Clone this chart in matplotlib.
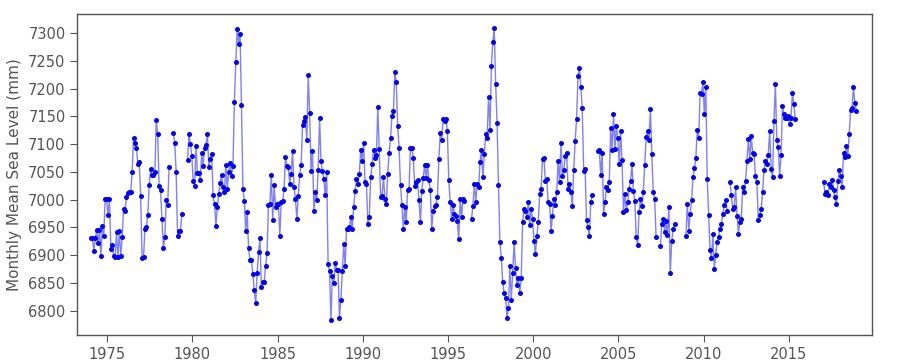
import numpy as np
import matplotlib
matplotlib.use("Agg")
import matplotlib.pyplot as plt

# --------------------------------------------------
# Monthly mean sea level (mm).
# Each block starts at the given (year, month) and runs month by month;
# blocks are split where the record has gaps.
# --------------------------------------------------
first_year = 1974
last_year = 2018

start_1974 = (1974, 1)
level_1974 = [6930, 6930, 6908, 6930, 6945, 6921, 6945, 6899, 6953, 6934, 7002, 7002,
              6972, 7001, 6911, 6918, 6898, 6897, 6941, 6897, 6943, 6898, 6933, 6983,
              6980, 7005, 7012, 7013, 7013, 7049, 7112, 7103, 7094, 7065, 7068, 7007,
              6894, 6896, 6947, 6950, 6972, 7026, 7055, 7044, 7045, 7049, 7143, 7118,
              7025, 7017, 6965, 6912, 6933, 6999, 6990, 7058]

start_1978 = (1978, 11)
level_1978 = [7120, 7103, 7049, 6934, 6943, 6943, 6974]

start_1979 = (1979, 9)
level_1979 = [7071, 7118, 7101, 7079, 7033, 7025, 7097, 7048, 7048, 7035, 7084, 7060,
              7094, 7098, 7118, 7058, 7073, 7083, 7008, 6992, 6953, 6987, 7010, 7030,
              7045, 7023, 7014, 7062, 7020, 7050,
              7067, 7043, 7061, 7176, 7248, 7308, 7281, 7299, 7170, 7019, 6998, 6943,
              6977, 6912, 6892, 6891, 6866, 6837, 6814, 6867, 6905, 6930, 6843, 6852,
              6852, 6880, 6904, 6990, 6992, 7045, 6963, 7026, 6986, 6993, 6993, 6935,
              6996, 6997, 7020, 7077, 7060, 7058, 7029, 7047, 7087,
              7022, 7002, 6965, 7007, 7044, 7063, 7134, 7142, 7149, 7107, 7224, 7157,
              7052, 7088, 6980, 7014, 6999, 7053, 7148, 7069, 7052, 7037, 7008, 7049,
              6884, 6871, 6783,
              6862, 6849, 6886, 6874, 6873, 6786, 6820, 6871, 6920, 6880, 6947, 6947,
              6950, 6968, 6947, 6986, 7016, 7037, 7029, 7046, 7090, 7070, 7102,
              7032, 7029, 6956, 6969, 7040, 7064, 7090, 7076, 7080, 7167, 7091, 7004,
              7007, 7040, 7002, 6992, 7046, 7085, 7112, 7151, 7160, 7230, 7212, 7133,
              7093, 7026, 6990, 6947, 6987, 6959, 7017, 7019, 7093, 7093, 7075, 7025,
              7032, 7035, 6999, 6959, 7016, 7039, 7063, 7039, 7063, 7035, 7017, 6947,
              6980, 6989, 6990, 7005, 7073, 7120, 7108, 7145, 7142, 7145, 7123, 7035,
              6995, 6966, 6990, 6975, 6971, 6962, 6929, 7001, 6969, 7001, 6997]

start_1996 = (1996, 5)
level_1996 = [6965, 6989, 7029, 6996, 7029, 7022, 7068, 7089, 7040, 7082, 7118, 7111,
              7185, 7126, 7241, 7285, 7309, 7209, 7139, 7026, 6924, 6894, 6851, 6831,
              6822, 6786, 6805, 6880, 6820, 6867, 6924, 6876, 6847, 6858, 6832, 6858,
              6959, 6983, 6980, 6968, 6996, 6954, 6984, 6965, 6926, 6902, 6934, 6959,
              7010, 7020, 7074, 7076, 7034, 7037, 6995, 6992, 6944, 6971, 7002, 6990,
              7013, 7070, 7032, 7102, 7043, 7054, 7079, 7085, 7020, 7028, 7014, 6989,
              7054, 7106, 7145, 7223, 7237, 7203, 7165, 7052, 7055, 6963, 6951, 6935,
              6995, 7008]

start_2003 = (2003, 10)
level_2003 = [7087, 7090, 7045, 7085, 6974, 6995, 7023, 7017, 7031, 7130, 7090, 7154,
              7091, 7132, 7112, 7065, 7123, 7071, 6978, 7010, 6981, 6995, 7020, 7034,
              7065, 7016, 6998, 6932, 6919, 6977, 7001, 6989, 7014, 7062, 7113, 7123,
              7108, 7163, 7082, 7013, 7001, 6932]

start_2007 = (2007, 6)
level_2007 = [6916, 6956, 6966, 6942, 6962, 6936, 6986, 6868, 6925, 6947, 6957]

start_2008 = (2008, 12)
level_2008 = [6935, 6993, 6943, 6975, 6999, 7040, 7057, 7076, 7126, 7112, 7193, 7191,
              7212, 7154, 7203, 7038, 6972, 6910, 6894, 6938, 6875, 6901, 6924, 6933,
              6948, 6957, 6974, 6990, 6999, 6980]

start_2011 = (2011, 7)
level_2011 = [7032, 7008, 6983, 6987, 7022, 6971, 6939, 6960, 6965, 7023, 7014, 7034,
              7070, 7109, 7073, 7115, 7084, 7082, 7042, 7031, 6963, 6973, 6983, 7014,
              7053, 7070, 7064, 7081, 7124, 7055, 7040, 7141, 7209, 7108, 7095, 7043,
              7081, 7168, 7154, 7148, 7148, 7151, 7136, 7148, 7193, 7172, 7145]

start_2017 = (2017, 1)
level_2017 = [7031, 7011, 7014, 7008, 7028, 7022, 7035, 7017, 7004, 6993, 7034, 7053,
              7043, 7022, 7085, 7077, 7096, 7078, 7118, 7162, 7166, 7204, 7174, 7160]

blocks = [
    (start_1974, level_1974),
    (start_1978, level_1978),
    (start_1979, level_1979),
    (start_1996, level_1996),
    (start_2003, level_2003),
    (start_2007, level_2007),
    (start_2008, level_2008),
    (start_2011, level_2011),
    (start_2017, level_2017),
]

# --------------------------------------------------
# Put the blocks on one monthly time axis (NaN = no data)
# --------------------------------------------------
n_months = (last_year - first_year + 1) * 12
sea_level = np.full(n_months, np.nan)
for (year, month), values in blocks:
    i0 = (year - first_year) * 12 + (month - 1)
    sea_level[i0:i0 + len(values)] = values

time = first_year + (np.arange(n_months) + 0.5) / 12

# --------------------------------------------------
# Plot
# --------------------------------------------------
grey = "#555555"

fig = plt.figure(figsize=(9, 3.6), dpi=100)
ax = fig.add_axes([0.0859, 0.0694, 0.883, 0.8906])

ax.plot(time, sea_level, "-", color="blue", alpha=0.5, linewidth=1)
ax.plot(time, sea_level, "o", color="blue", markersize=3.6, markeredgewidth=0)

ax.set_xlim(1973.24, 2019.88)
ax.set_ylim(6756, 7334)
ax.set_xticks(range(1975, 2016, 5))
ax.set_yticks(range(6800, 7301, 50))

ax.set_ylabel("Monthly Mean Sea Level (mm)", fontsize=11, color=grey)
ax.tick_params(direction="out", length=5, color=grey, labelcolor=grey, labelsize=10.5)
for spine in ax.spines.values():
    spine.set_color(grey)
    spine.set_linewidth(1)

fig.savefig("out.png", dpi=100)
